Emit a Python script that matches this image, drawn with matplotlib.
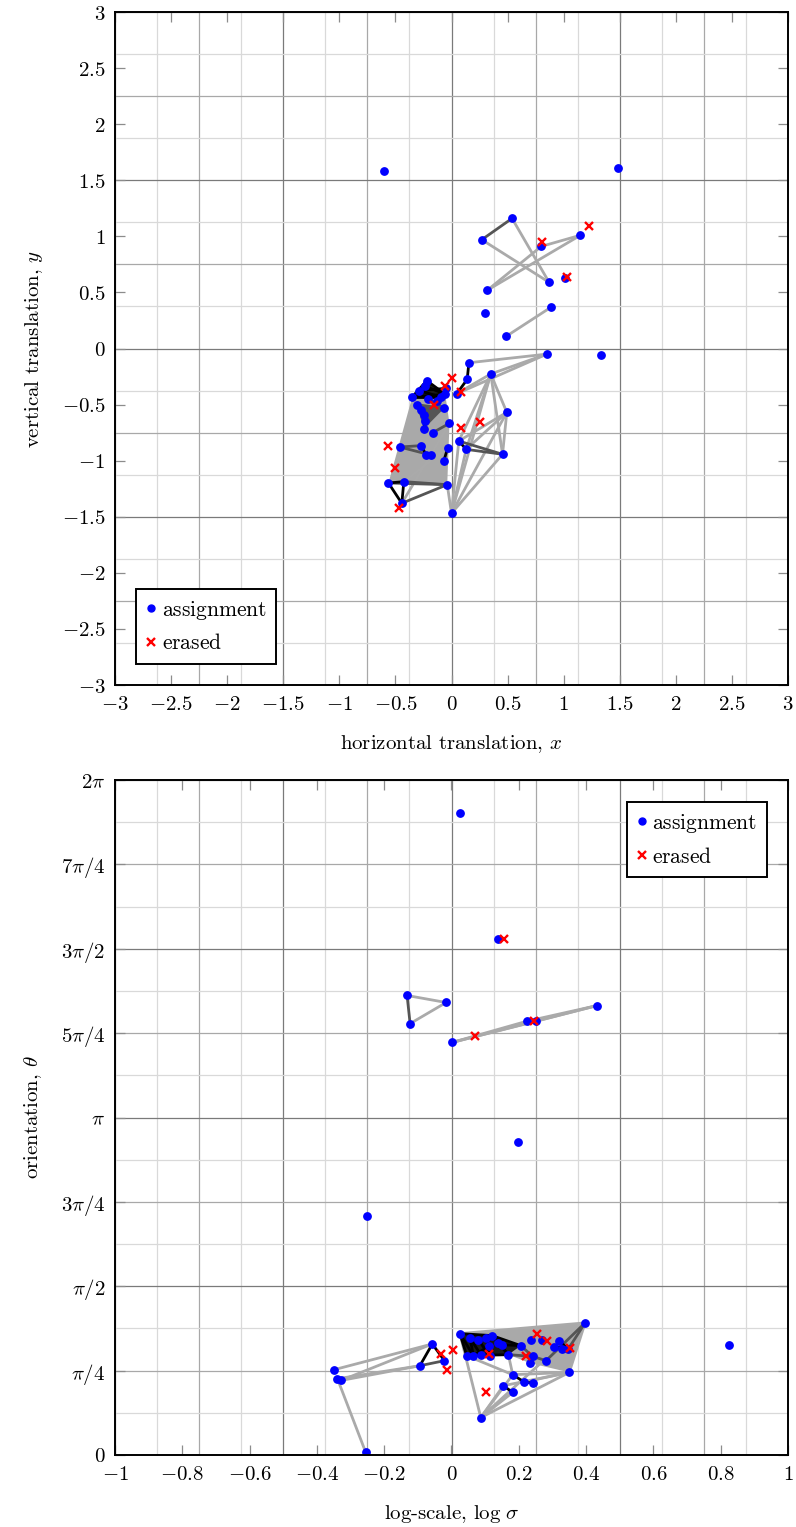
import numpy as np
import matplotlib
matplotlib.use('Agg')
import matplotlib.pyplot as plt
from matplotlib.lines import Line2D

plt.rcParams['mathtext.fontset'] = 'cm'
plt.rcParams['font.family'] = ['DejaVu Serif']
plt.rcParams['font.size'] = 15

# ---- top panel: translation (x, y) ----
trans_x = [-0.606, 1.48, 1.33, 0.54, 0.27, 1.15, 0.80, 0.87, 1.01, 0.32,
           0.30, 0.89, 0.49, 0.85, 0.155, 0.35, 0.14, 0.047, -0.22, -0.291,
           -0.232, -0.35, -0.208, -0.128, -0.092, -0.056, -0.065, -0.312, -0.276, -0.247,
           -0.235, -0.247, -0.167, -0.018, -0.033, -0.069, -0.27, -0.226, -0.187, -0.461,
           -0.562, -0.425, -0.443, -0.038, 0.0, 0.065, 0.131, 0.455, 0.493, -0.047]
trans_y = [1.58, 1.61, -0.06, 1.16, 0.97, 1.01, 0.91, 0.59, 0.63, 0.52,
           0.32, 0.37, 0.11, -0.05, -0.127, -0.227, -0.275, -0.403, -0.287, -0.376,
           -0.337, -0.432, -0.453, -0.468, -0.432, -0.408, -0.533, -0.501, -0.545, -0.593,
           -0.646, -0.718, -0.75, -0.667, -0.884, -1.003, -0.866, -0.949, -0.949, -0.878,
           -1.199, -1.187, -1.38, -1.214, -1.469, -0.825, -0.899, -0.943, -0.569, -0.355]
trans_erased_x = [0.81, 1.03, 1.23, 0.003, -0.06, 0.086, -0.16, 0.086, 0.25, -0.568, -0.502, -0.472]
trans_erased_y = [0.95, 0.64, 1.09, -0.266, -0.33, -0.385, -0.507, -0.712, -0.652, -0.872, -1.068, -1.419]

trans_light = [(3, 7), (4, 7), (5, 6), (5, 9), (6, 9), (11, 12), (13, 14), (13, 15),
               (13, 17), (15, 17), (44, 45), (44, 46), (44, 47), (44, 48), (44, 15),
               (15, 45), (15, 46), (15, 47), (15, 48), (48, 45), (48, 46), (48, 47),
               (44, 43), (42, 33), (41, 34)]
trans_dark = [(3, 4), (39, 36), (39, 38), (41, 43), (42, 43), (40, 43), (45, 47),
              (46, 47), (32, 33), (22, 26), (27, 26)]
trans_black = [(40, 41), (40, 42), (41, 42), (14, 16), (16, 17), (36, 37), (34, 35),
               (45, 46), (21, 24), (21, 25), (19, 24), (18, 25), (20, 25), (18, 21),
               (19, 49), (27, 29), (29, 31), (28, 30), (23, 49)]
trans_fills = [((21, 40, 43, 33, 25), '#a9a9a9'),
               ((27, 26, 31), '#555555'),
               ((21, 19, 18, 25, 24), '#1a1a1a')]

# ---- bottom panel: log-scale and orientation (theta in units of pi/4) ----
orient_logs = [0.025, 0.138, -0.132, -0.123, -0.016, 0.002, 0.223, 0.251, 0.433, 0.198,
               -0.251, 0.825, -0.255, -0.349, -0.339, -0.329, -0.057, -0.094, -0.021, 0.025,
               0.055, 0.080, 0.104, 0.121, 0.139, 0.149, 0.111, 0.045, 0.065, 0.087,
               0.114, 0.169, 0.206, 0.235, 0.268, 0.318, 0.306, 0.327, 0.347, 0.397,
               0.241, 0.233, 0.281, 0.350, 0.182, 0.216, 0.241, 0.154, 0.182, 0.087]
orient_theta_q = [7.613, 6.11, 5.446, 5.113, 5.363, 4.89, 5.14, 5.14, 5.327, 3.71,
                  2.83, 1.308, 0.032, 1.011, 0.904, 0.883, 1.316, 1.058, 1.118, 1.439,
                  1.387, 1.367, 1.387, 1.415, 1.328, 1.308, 1.288, 1.177, 1.177, 1.189,
                  1.169, 1.189, 1.296, 1.367, 1.367, 1.356, 1.281, 1.257, 1.257, 1.566,
                  1.169, 1.090, 1.118, 0.979, 0.952, 0.865, 0.853, 0.821, 0.742, 0.444]
orient_erased_logs = [0.156, 0.070, 0.245, -0.031, 0.005, -0.014, 0.112, 0.253, 0.283, 0.221, 0.352, 0.104]
orient_erased_q = [6.11, 4.966, 5.14, 1.197, 1.245, 1.011, 1.201, 1.439, 1.347, 1.169, 1.269, 0.742]

orient_light = [(2, 4), (3, 4), (5, 6), (5, 7), (5, 8), (6, 8), (7, 8), (13, 16), (14, 17),
                (15, 17), (15, 16), (14, 12), (19, 49), (49, 39), (49, 43), (49, 44),
                (49, 47), (49, 48), (39, 43), (39, 35), (44, 43), (47, 43), (45, 43),
                (19, 39), (31, 44), (27, 44)]
orient_dark = [(2, 3), (17, 18), (39, 38), (39, 42), (42, 40), (32, 40), (31, 40)]
orient_black = [(16, 17), (16, 18), (44, 45), (47, 48), (45, 46), (36, 38), (35, 38),
                (37, 38), (19, 27), (19, 28), (20, 29), (21, 30), (22, 30), (23, 31),
                (24, 31), (25, 32), (23, 32), (26, 28), (20, 28), (27, 31), (19, 23)]
orient_fills = [((19, 39, 43, 41, 31, 27), '#a9a9a9'),
                ((27, 19, 23, 32, 31), '#1a1a1a')]

orient_theta = [q * np.pi / 4 for q in orient_theta_q]
orient_erased_theta = [q * np.pi / 4 for q in orient_erased_q]


def draw_grid(ax, lo, hi, step, vertical):
    n = int(round((hi - lo) / step))
    for k in range(n + 1):
        v = lo + k * step
        if k % 4 == 0:
            c = '#7a7a7a'
        elif k % 2 == 0:
            c = '#a8a8a8'
        else:
            c = '#d9d9d9'
        if vertical:
            ax.axvline(v, color=c, lw=0.9, zorder=1)
        else:
            ax.axhline(v, color=c, lw=0.9, zorder=1)


def draw_graph(ax, xs, ys, fills, light, dark, black, ex, ey):
    for poly, c in fills:
        ax.fill([xs[i] for i in poly], [ys[i] for i in poly], color=c, lw=0, zorder=2)
    for edges, c in ((light, '#aaaaaa'), (dark, '#555555'), (black, '#000000')):
        for i, j in edges:
            ax.plot([xs[i], xs[j]], [ys[i], ys[j]], color=c, lw=2.0,
                    solid_capstyle='round', zorder=3)
    ax.plot(xs, ys, 'o', color='#0000ff', ms=5.3, ls='none', zorder=4)
    ax.plot(ex, ey, 'x', color='#ff0000', ms=6, mew=1.7, ls='none', zorder=5)


def style_axes(ax):
    ax.tick_params(direction='in', top=True, right=True, length=7, width=0.9,
                   color='#8c8c8c', pad=7, labelsize=15)
    for s in ax.spines.values():
        s.set_linewidth(1.4)
        s.set_zorder(6)


def tick_text(t):
    t = round(float(t), 2) + 0.0
    return f'${t:g}$'


legend_handles = [
    Line2D([], [], marker='o', color='#0000ff', ls='none', ms=5),
    Line2D([], [], marker='x', color='#ff0000', ls='none', ms=6, mew=1.7),
]
legend_labels = [r'$\text{assignment}$', r'$\text{erased}$']

fig = plt.figure(figsize=(7.96, 15.27), dpi=100)
ax1 = fig.add_axes([115 / 796, 1 - 685 / 1527, 673 / 796, 673 / 1527])
ax2 = fig.add_axes([115 / 796, 1 - 1455 / 1527, 673 / 796, 675 / 1527])

# top panel
draw_grid(ax1, -3, 3, 0.375, True)
draw_grid(ax1, -3, 3, 0.375, False)
draw_graph(ax1, trans_x, trans_y, trans_fills, trans_light, trans_dark, trans_black,
           trans_erased_x, trans_erased_y)
ax1.set_xlim(-3, 3)
ax1.set_ylim(-3, 3)
ticks = np.arange(-3, 3.01, 0.5)
ax1.set_xticks(ticks)
ax1.set_xticklabels([tick_text(t) for t in ticks])
ax1.set_yticks(ticks)
ax1.set_yticklabels([tick_text(t) for t in ticks])
style_axes(ax1)
ax1.set_xlabel(r'$\text{horizontal translation, }x$', fontsize=15, labelpad=14)
ax1.set_ylabel(r'$\text{vertical translation, }y$', fontsize=15, labelpad=12)
leg1 = ax1.legend(legend_handles, legend_labels, loc='lower left', bbox_to_anchor=(0.031, 0.031),
                  borderaxespad=0, fancybox=False, framealpha=1, edgecolor='black',
                  handlelength=0.5, handletextpad=0.25, borderpad=0.45, fontsize=15.5)
leg1.get_frame().set_linewidth(1.4)
leg1.set_zorder(7)

# bottom panel
draw_grid(ax2, -1, 1, 0.125, True)
draw_grid(ax2, 0, 2 * np.pi, np.pi / 8, False)
draw_graph(ax2, orient_logs, orient_theta, orient_fills, orient_light, orient_dark,
           orient_black, orient_erased_logs, orient_erased_theta)
ax2.set_xlim(-1, 1)
ax2.set_ylim(0, 2 * np.pi)
xt = np.arange(-1, 1.01, 0.2)
ax2.set_xticks(xt)
ax2.set_xticklabels([tick_text(t) for t in xt])
ax2.set_yticks([k * np.pi / 4 for k in range(9)])
ax2.set_yticklabels(['$0$', r'$\pi/4$', r'$\pi/2$', r'$3\pi/4$', r'$\pi$',
                     r'$5\pi/4$', r'$3\pi/2$', r'$7\pi/4$', r'$2\pi$'])
style_axes(ax2)
ax2.set_xlabel(r'$\text{log-scale, }\log\,\sigma$', fontsize=15, labelpad=14)
ax2.set_ylabel(r'$\text{orientation, }\theta$', fontsize=15, labelpad=12)
leg2 = ax2.legend(legend_handles, legend_labels, loc='upper right', bbox_to_anchor=(0.969, 0.967),
                  borderaxespad=0, fancybox=False, framealpha=1, edgecolor='black',
                  handlelength=0.5, handletextpad=0.25, borderpad=0.45, fontsize=15.5)
leg2.get_frame().set_linewidth(1.4)
leg2.set_zorder(7)

fig.savefig('out.png', dpi=100)
